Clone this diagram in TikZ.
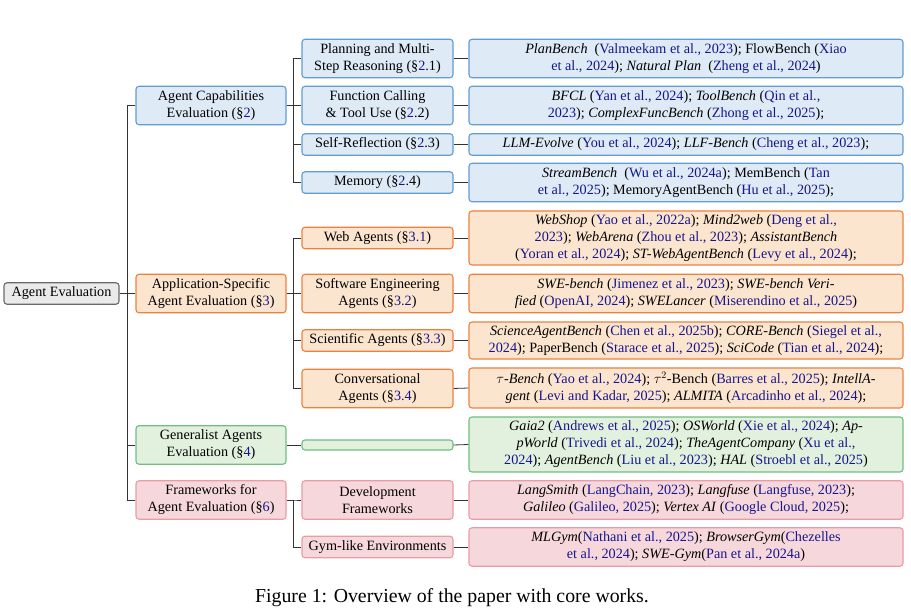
\documentclass[tikz,border=0pt]{standalone}
\usepackage{fontspec}
\setmainfont{Liberation Serif}
\usetikzlibrary{positioning}

\definecolor{capfill}{RGB}{222,234,246}
\definecolor{capdraw}{RGB}{95,157,212}
\definecolor{appfill}{RGB}{252,229,206}
\definecolor{appdraw}{RGB}{238,128,62}
\definecolor{genfill}{RGB}{226,241,222}
\definecolor{gendraw}{RGB}{112,190,128}
\definecolor{frmfill}{RGB}{246,216,220}
\definecolor{frmdraw}{RGB}{234,155,165}
\definecolor{rootfill}{RGB}{234,234,234}
\definecolor{rootdraw}{RGB}{105,105,105}
\definecolor{citeblue}{RGB}{22,22,140}

\tikzset{
box/.style={
	  draw, rounded corners=3pt, line width=1.1pt, align=center,
	    inner xsep=2pt, inner ysep=0pt, font=\fontsize{14.2}{17}\selectfont},
rootbox/.style={box, fill=rootfill, draw=rootdraw, minimum width=115pt},
topic/.style={box, minimum width=150pt},
sub/.style={box, minimum width=151pt},
leaf/.style={box, minimum width=434pt},
lines1/.style={minimum height=21.5pt},
lines2/.style={minimum height=38.5pt},
lines3/.style={minimum height=55pt},
capab/.style={fill=capfill, draw=capdraw},
appl/.style={fill=appfill, draw=appdraw},
gener/.style={fill=genfill, draw=gendraw},
frmwk/.style={fill=frmfill, draw=frmdraw},
link/.style={draw=black!80, line width=0.8pt}
}
\newcommand{\cit}[1]{\textcolor{citeblue}{#1}}

\begin{document}
\begin{tikzpicture}[x=1pt, y=-1pt]
	\useasboundingbox (0,0) rectangle (911,609);
	% root and first level
	\node[rootbox, lines1] (root) at (61.5,293.5) {Agent Evaluation};
	\node[topic, lines2, capab] (cap) at (211,105.5) {Agent Capabilities\\Evaluation (§\cit{2})};
	\node[topic, lines2, appl] (app) at (211,293.5) {Application-Specific\\Agent Evaluation (§\cit{3})};
	\node[topic, lines2, gener] (gen) at (211,445) {Generalist Agents\\Evaluation (§\cit{4})};
	\node[topic, lines2, frmwk] (frm) at (211,500) {Frameworks for\\Agent Evaluation (§\cit{6})};
	% second level
	\node[sub, lines2, capab] (plan) at (377.5,58.5) {Planning and Multi-\\Step Reasoning (§\cit{2}.1)};
	\node[sub, lines2, capab] (func) at (377.5,105.5) {Function Calling\\\& Tool Use (§\cit{2}.2)};
	\node[sub, lines1, capab] (self) at (377.5,144.5) {Self-Reflection (§\cit{2}.3)};
	\node[sub, lines1, capab] (mem) at (377.5,182.5) {Memory (§\cit{2}.4)};
	\node[sub, lines1, appl] (web) at (377.5,238) {Web Agents (§\cit{3.1})};
	\node[sub, lines2, appl] (swe) at (377.5,293.5) {Software Engineering\\Agents (§\cit{3.2})};
	\node[sub, lines1, appl] (sci) at (377.5,340.5) {Scientific Agents (§\cit{3.3})};
	\node[sub, lines2, appl] (conv) at (377.5,388.5) {Conversational\\Agents (§\cit{3.4})};
	\node[sub, gener, minimum height=10pt] (genS) at (377.5,445) {};
	\node[sub, lines2, frmwk] (dev) at (377.5,500) {Development\\Frameworks};
	\node[sub, lines1, frmwk] (gym) at (377.5,547) {Gym-like Environments};
	% works
	\node[leaf, lines2, capab] (planL) at (686,58.5) {\textit{PlanBench}\ \ (\cit{Valmeekam et al., 2023}); FlowBench (\cit{Xiao}\\\cit{et al., 2024}); \textit{Natural Plan}\ \ (\cit{Zheng et al., 2024})};
	\node[leaf, lines2, capab] (funcL) at (686,105.5) {\textit{BFCL} (\cit{Yan et al., 2024}); \textit{ToolBench} (\cit{Qin et al.,}\\\cit{2023}); \textit{ComplexFuncBench} (\cit{Zhong et al., 2025});};
	\node[leaf, lines1, capab] (selfL) at (686,144.5) {\textit{LLM-Evolve} (\cit{You et al., 2024}); \textit{LLF-Bench} (\cit{Cheng et al., 2023});};
	\node[leaf, lines2, capab] (memL) at (686,182.5) {\textit{StreamBench}\ \ (\cit{Wu et al., 2024a}); MemBench (\cit{Tan}\\\cit{et al., 2025}); MemoryAgentBench (\cit{Hu et al., 2025});};
	\node[leaf, lines3, appl, minimum height=54pt] (webL) at (686,238) {\textit{WebShop} (\cit{Yao et al., 2022a}); \textit{Mind2web} (\cit{Deng et al.,}\\\cit{2023}); \textit{WebArena} (\cit{Zhou et al., 2023}); \textit{AssistantBench}\\(\cit{Yoran et al., 2024}); \textit{ST-WebAgentBench} (\cit{Levy et al., 2024});};
	\node[leaf, lines2, appl] (sweL) at (686,293.5) {\textit{SWE-bench} (\cit{Jimenez et al., 2023}); \textit{SWE-bench Veri-}\\\textit{fied} (\cit{OpenAI, 2024}); \textit{SWELancer} (\cit{Miserendino et al., 2025})};
	\node[leaf, appl, minimum height=37pt] (sciL) at (686,340.5) {\textit{ScienceAgentBench} (\cit{Chen et al., 2025b}); \textit{CORE-Bench} (\cit{Siegel et al.,}\\\cit{2024}); PaperBench (\cit{Starace et al., 2025}); \textit{SciCode} (\cit{Tian et al., 2024});};
	\node[leaf, appl, minimum height=40pt] (convL) at (686,388) {$\tau$-\textit{Bench} (\cit{Yao et al., 2024}); $\tau^2$-Bench (\cit{Barres et al., 2025}); \textit{IntellA-}\\\textit{gent} (\cit{Levi and Kadar, 2025}); \textit{ALMITA} (\cit{Arcadinho et al., 2024});};
	\node[leaf, lines3, gener] (genSL) at (686,444.5) {\textit{Gaia2} (\cit{Andrews et al., 2025}); \textit{OSWorld} (\cit{Xie et al., 2024}); \textit{Ap-}\\\textit{pWorld} (\cit{Trivedi et al., 2024}); \textit{TheAgentCompany} (\cit{Xu et al.,}\\\cit{2024}); \textit{AgentBench} (\cit{Liu et al., 2023}); \textit{HAL} (\cit{Stroebl et al., 2025})};
	\node[leaf, lines2, frmwk] (devL) at (686,500) {\textit{LangSmith} (\cit{LangChain, 2023}); \textit{Langfuse} (\cit{Langfuse, 2023});\\\textit{Galileo} (\cit{Galileo, 2025}); \textit{Vertex AI} (\cit{Google Cloud, 2025});};
	\node[leaf, lines2, frmwk] (gymL) at (686,547) {\textit{MLGym}(\cit{Nathani et al., 2025}); \textit{BrowserGym}(\cit{Chezelles}\\\cit{et al., 2024}); \textit{SWE-Gym}(\cit{Pan et al., 2024a})};
	% connectors
	\foreach \t in {cap,app,gen,frm}
	  \draw[link] (root.east) -- +(8,0) |- (\t.west);
	\foreach \s in {plan,func,self,mem}
	  \draw[link] (cap.east) -- +(7,0) |- (\s.west);
	\foreach \s in {web,swe,sci,conv}
	  \draw[link] (app.east) -- +(7,0) |- (\s.west);
	\foreach \s in {dev,gym}
	  \draw[link] (frm.east) -- +(7,0) |- (\s.west);
	\draw[link] (gen.east) -- (genS.west);
	\foreach \s in {plan,func,self,mem,web,swe,sci,conv,genS,dev,gym}
	  \draw[link] (\s.east) -- (\s L.west);
	\node[font=\fontsize{19.8}{22}\selectfont] (caption) at (452,598) {Figure 1: Overview of the paper with core works.};
\end{tikzpicture}
\end{document}
